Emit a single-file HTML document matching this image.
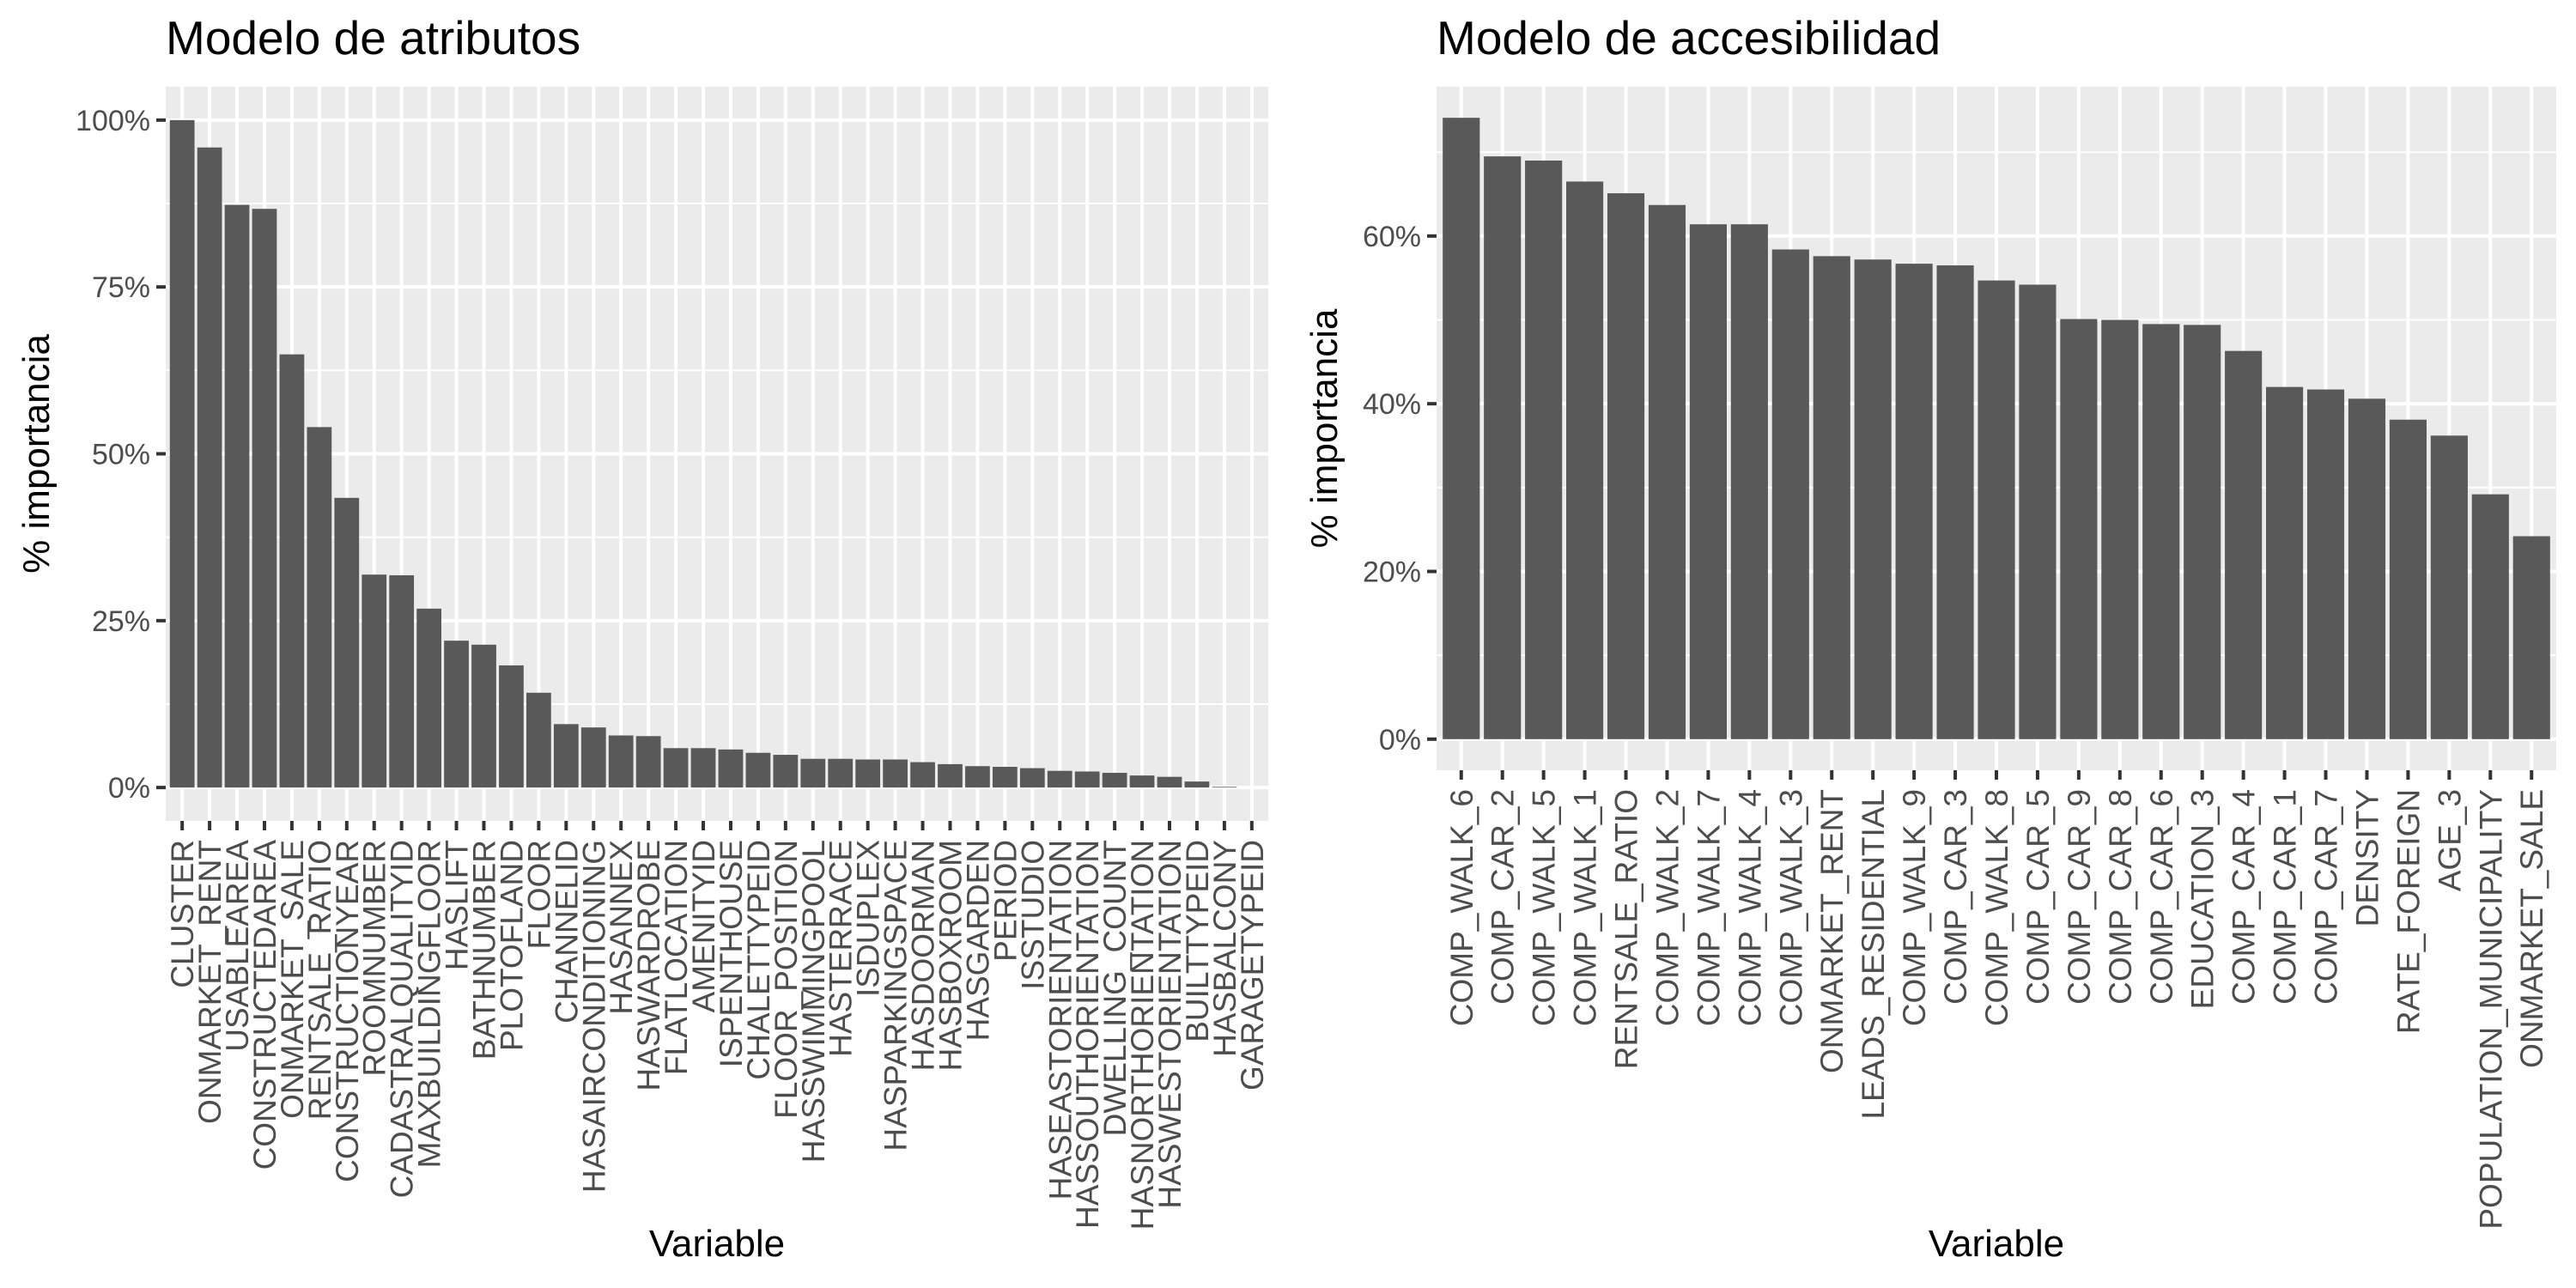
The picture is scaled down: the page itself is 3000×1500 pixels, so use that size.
<!DOCTYPE html>
<html><head><meta charset="utf-8"><style>
html,body{margin:0;padding:0;background:#fff;}
svg{display:block;font-family:"Liberation Sans",Arial,sans-serif;}
</style></head><body>
<svg id="chart" width="3000" height="1500" viewBox="0 0 3000 1500" xmlns="http://www.w3.org/2000/svg"></svg>
<script>
const attrCategories = ["CLUSTER","ONMARKET_RENT","USABLEAREA","CONSTRUCTEDAREA","ONMARKET_SALE","RENTSALE_RATIO","CONSTRUCTIONYEAR","ROOMNUMBER","CADASTRALQUALITYID","MAXBUILDINGFLOOR","HASLIFT","BATHNUMBER","PLOTOFLAND","FLOOR","CHANNELID","HASAIRCONDITIONING","HASANNEX","HASWARDROBE","FLATLOCATION","AMENITYID","ISPENTHOUSE","CHALETTYPEID","FLOOR_POSITION","HASSWIMMINGPOOL","HASTERRACE","ISDUPLEX","HASPARKINGSPACE","HASDOORMAN","HASBOXROOM","HASGARDEN","PERIOD","ISSTUDIO","HASEASTORIENTATION","HASSOUTHORIENTATION","DWELLING_COUNT","HASNORTHORIENTATION","HASWESTORIENTATION","BUILTTYPEID","HASBALCONY","GARAGETYPEID"];
const attrValues = [100,95.9,87.3,86.7,64.9,54.0,43.4,31.9,31.8,26.8,22.0,21.4,18.3,14.2,9.5,9.0,7.8,7.7,5.9,5.9,5.7,5.2,4.9,4.3,4.3,4.2,4.2,3.8,3.5,3.2,3.1,2.9,2.5,2.4,2.2,1.8,1.6,0.9,0.1,0];
const attrTicks = [0,25,50,75,100];
const accCategories = ["COMP_WALK_6","COMP_CAR_2","COMP_WALK_5","COMP_WALK_1","RENTSALE_RATIO","COMP_WALK_2","COMP_WALK_7","COMP_WALK_4","COMP_WALK_3","ONMARKET_RENT","LEADS_RESIDENTIAL","COMP_WALK_9","COMP_CAR_3","COMP_WALK_8","COMP_CAR_5","COMP_CAR_9","COMP_CAR_8","COMP_CAR_6","EDUCATION_3","COMP_CAR_4","COMP_CAR_1","COMP_CAR_7","DENSITY","RATE_FOREIGN","AGE_3","POPULATION_MUNICIPALITY","ONMARKET_SALE"];
const accValues = [74.1,69.5,69.0,66.5,65.1,63.7,61.4,61.4,58.4,57.6,57.2,56.7,56.5,54.7,54.2,50.1,50.0,49.5,49.4,46.3,42.0,41.7,40.6,38.1,36.2,29.2,24.2];
const accTicks = [0,20,40,60];

const NS = "http://www.w3.org/2000/svg";
const svg = document.getElementById("chart");
function mk(tag, attrs, parent){const e=document.createElementNS(NS,tag);for(const k in attrs)e.setAttribute(k,attrs[k]);(parent||svg).appendChild(e);return e;}

function panel(cfg, cats, vals, ticks){
  const g = mk("g",{});
  
  
  const L=cfg.left,R=cfg.right,T=101;
  const maxV=Math.max(...vals), span=maxV*1.1, lo=-maxV*0.05;
  const B=cfg.bottom;
  const y=v=>B-(v-lo)/span*(B-T);
  const n=cats.length, step=(R-L)/(n+0.2);
  const x=i=>L+step*(0.6+i);
  const bg=mk("rect",{x:L,y:T,width:R-L,height:B-T,fill:"#EBEBEB"},g);
  
  
  for(let i=0;i<ticks.length;i++){
    const d=ticks[1]-ticks[0];
    const m=ticks[i]+d/2;
    if(y(m)>T) mk("line",{x1:L,x2:R,y1:y(m),y2:y(m),stroke:"#fff","stroke-width":2},g);
  }
  ticks.forEach(t=>{
    const gl=mk("line",{x1:L,x2:R,y1:y(t),y2:y(t),stroke:"#fff","stroke-width":4},g);
    
    
    mk("line",{x1:L-11,x2:L,y1:y(t),y2:y(t),stroke:"#333","stroke-width":4},g);
    const tl=mk("text",{x:L-18,y:y(t)+12,"text-anchor":"end","font-size":34,fill:"#4D4D4D"},g);
    tl.textContent=t+"%";
    
    
  });
  cats.forEach((c,i)=>{
    const xl=mk("line",{x1:x(i),x2:x(i),y1:T,y2:B,stroke:"#fff","stroke-width":4},g);
    
    
  });
  cats.forEach((c,i)=>{
    const bw=step*0.9;
    const r=mk("rect",{x:x(i)-bw/2,y:y(vals[i]),width:bw,height:Math.max(0,y(0)-y(vals[i])),fill:"#595959"},g);
    
    
    mk("line",{x1:x(i),x2:x(i),y1:B,y2:B+11,stroke:"#333","stroke-width":4},g);
    const t=mk("text",{transform:`translate(${x(i)+13},${B+22}) rotate(-90)`,"text-anchor":"end","font-size":37,fill:"#4D4D4D"},g);
    t.textContent=c;
    
    
  });
  const title=mk("text",{x:L,y:63,"font-size":55,fill:"#000"},g);
  title.textContent=cfg.title;
  
  
  const yt=mk("text",{transform:`translate(${cfg.ytx},${(T+B)/2}) rotate(-90)`,"text-anchor":"middle","font-size":44,fill:"#000"},g);
  yt.textContent="% importancia";
  
  
  const xt=mk("text",{x:(L+R)/2,y:1463,"text-anchor":"middle","font-size":44,fill:"#000"},g);
  xt.textContent="Variable";
  
  
}
panel({name:"attributes-panel",title:"Modelo de atributos",left:193,right:1477,bottom:956,ytx:57},attrCategories,attrValues,attrTicks);
panel({name:"accessibility-panel",title:"Modelo de accesibilidad",left:1673,right:2977,bottom:897,ytx:1557},accCategories,accValues,accTicks);
</script>
</body></html>
